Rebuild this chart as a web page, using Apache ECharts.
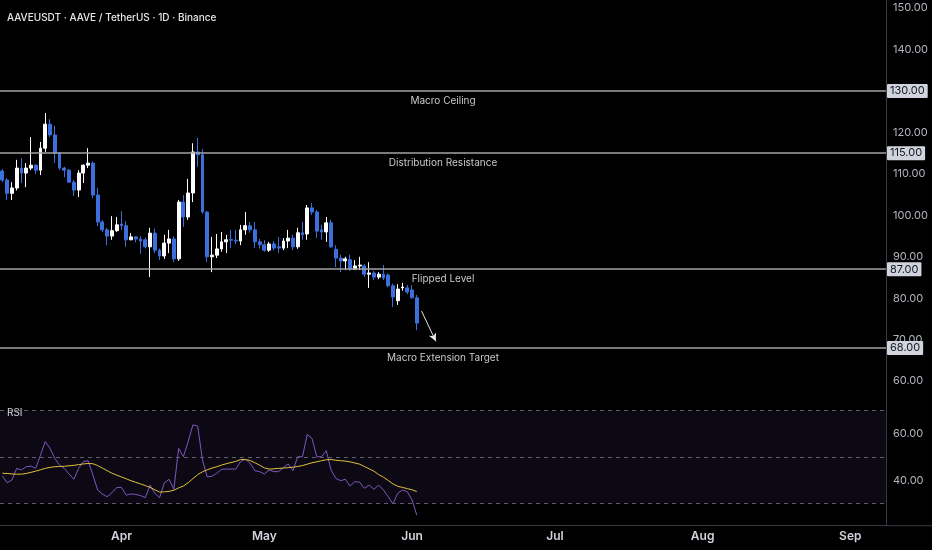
<!DOCTYPE html>
<html>
<head>
<meta charset="utf-8">
<script src="https://cdn.jsdelivr.net/npm/echarts@6/dist/echarts.min.js"></script>
<style>html,body{margin:0;padding:0;background:#000}#c{width:932px;height:550px}</style>
</head>
<body>
<div id="c"></div>
<script>
// ---- data ----
const startDate = '2024-03-07';
const dayCount = 186; // axis runs to early September
const monthNames = ['Jan','Feb','Mar','Apr','May','Jun','Jul','Aug','Sep','Oct','Nov','Dec'];

const opens  = [110.7,108.5,105.3,106.6,111.4,110.2,111.4,112.1,110.9,116.2,122.0,119.4,115.0,111.4,110.9,108.0,106.1,110.2,112.1,112.6,104.9,98.4,96.5,95.0,96.3,
                97.9,97.5,94.1,94.8,94.3,94.1,92.4,95.7,91.6,90.2,93.3,94.3,89.5,103.2,99.6,105.4,115.3,114.6,100.8,90.0,90.4,91.9,93.6,94.2,94.0,93.8,96.5,97.5,96.5,93.6,
                92.9,91.6,93.1,92.4,92.1,93.8,94.5,92.4,95.8,95.5,101.8,100.8,96.5,96.0,98.2,91.8,89.7,89.0,89.3,87.0,87.8,87.8,85.8,86.1,85.1,85.8,85.6,83.0,79.4,82.5,82.5,82.0,80.1];
const closes = [108.5,105.3,106.6,111.4,110.2,111.4,112.1,110.9,116.2,122.0,119.4,115.0,111.4,110.9,108.0,106.1,110.2,112.1,112.6,104.9,98.4,96.5,95.0,96.3,97.7,
                97.5,94.1,94.8,94.3,93.8,92.4,95.7,91.6,90.2,93.3,94.3,89.5,103.2,99.6,105.4,115.3,114.6,100.8,90.0,90.4,91.9,93.6,94.1,94.0,93.8,96.5,97.5,96.5,93.6,92.9,
                91.6,93.1,92.1,92.1,93.8,94.5,92.4,95.8,95.3,101.8,100.8,96.2,96.0,98.2,92.4,89.7,89.0,89.5,87.0,87.8,88.0,85.8,86.1,85.1,85.8,84.9,83.0,80.3,82.2,82.7,81.5,80.1,74.0];
const lows   = [108.0,103.7,103.7,106.0,107.8,106.8,110.9,110.0,109.7,115.3,118.9,112.6,110.9,109.2,107.8,104.7,104.4,107.8,111.4,104.2,97.4,96.0,92.8,94.1,96.0,
                96.5,92.4,94.0,93.5,90.7,92.0,85.1,90.9,89.2,89.5,90.9,88.7,89.0,97.2,98.9,103.2,111.7,100.4,88.7,86.3,89.7,91.2,90.9,92.1,93.0,92.8,95.3,95.8,92.1,92.0,
                91.2,91.2,91.5,90.9,91.6,92.1,91.6,91.9,94.1,94.1,100.1,94.5,94.1,93.6,92.1,87.5,86.3,86.8,86.6,86.8,86.8,85.1,82.5,84.4,84.6,84.4,82.7,77.9,78.4,81.8,81.0,80.0,72.3];
const highs  = [111.2,109.0,108.0,113.4,113.8,112.6,118.9,112.3,117.7,124.7,123.2,121.6,115.3,111.7,111.2,108.5,110.9,112.3,116.2,113.0,106.6,98.9,97.0,99.8,99.6,
                101.0,98.6,95.7,95.0,95.0,94.6,97.0,96.8,92.0,95.3,96.5,95.0,103.7,104.9,108.8,117.4,118.7,116.0,101.0,94.8,95.5,96.0,95.3,96.5,96.5,97.7,100.8,98.4,98.4,94.3,
                94.0,93.6,93.8,94.8,94.5,96.5,95.3,97.0,98.4,102.5,103.0,101.3,97.7,99.6,98.9,92.8,90.5,90.0,90.5,89.2,90.0,88.3,88.7,86.6,86.3,88.0,86.0,83.5,83.4,83.7,83.2,83.2,80.8];

const rsi   = [41.9,39.0,40.2,45.2,44.5,45.9,46.2,45.2,50.9,56.7,53.8,49.5,46.6,45.2,42.8,40.5,45.2,48.1,48.5,42.3,35.9,34.2,33.0,34.7,37.0,
               37.0,33.7,34.2,34.0,33.5,32.6,38.0,34.5,32.6,39.0,40.5,36.2,53.8,50.2,56.7,63.9,63.4,48.8,41.5,41.8,43.1,44.8,44.9,44.9,44.9,48.1,49.1,47.4,44.2,43.8,
               42.8,44.5,43.8,43.8,45.6,47.1,44.2,50.2,50.2,59.8,58.1,50.2,50.2,52.8,44.5,40.9,39.9,40.5,37.6,39.5,39.2,36.6,38.0,36.2,38.0,35.9,33.0,29.9,34.5,35.9,35.2,31.6,25.1];
const rsiMa = [43.1,43.0,42.8,42.7,42.7,43.0,43.5,44.0,44.6,45.2,45.6,45.9,46.0,46.1,46.3,46.5,46.8,47.1,47.3,47.2,46.4,45.3,44.2,43.1,42.3,
               41.5,40.7,39.9,39.2,38.5,37.8,37.0,36.0,35.0,35.1,35.3,35.8,36.8,37.6,39.0,40.8,42.5,43.7,44.6,45.3,45.9,46.6,47.2,47.7,48.2,49.0,49.0,48.6,47.6,46.6,
               45.4,44.9,45.0,45.2,45.3,45.5,45.7,46.0,46.4,47.0,47.6,48.0,48.5,48.9,49.0,48.7,48.5,48.3,48.0,47.5,47.0,46.0,45.0,44.0,42.5,41.4,40.0,38.5,37.5,37.0,36.5,36.0,35.2];

const levels     = [130, 115, 87, 68];
const levelNames = ['Macro Ceiling', 'Distribution Resistance', 'Flipped Level', 'Macro Extension Target'];
const priceTicks = [60, 70, 80, 90, 100, 110, 120, 130, 140, 150];
const rsiTicks   = [40, 60];
const rsiBands   = [70, 50, 30];
const arrowFrom  = ['2024-06-03', 76.9];
const arrowTo    = ['2024-06-06', 69.6];

// ---- build ----
const categories = [];
{
  const d0 = new Date(startDate + 'T00:00:00Z');
  for (let i = 0; i < dayCount; i++) {
    const d = new Date(d0.getTime() + i * 86400000);
    categories.push(d.toISOString().slice(0, 10));
  }
}
const candles = opens.map((o, i) => [o, closes[i], lows[i], highs[i]]);

const upColor = '#ffffff', downColor = '#3b6fdc';
const axisColor = '#363a45';

const levelMarks = [];
levels.forEach((v, i) => {
  levelMarks.push({
    yAxis: v,
    lineStyle: { color: '#a3a3a3', width: 1.5, type: 'solid' },
    label: { show: true, position: 'insideMiddleBottom', formatter: levelNames[i],
             color: '#c9c9c9', fontSize: 10, distance: 5 }
  });
});
levelMarks.push([
  { coord: arrowFrom, symbol: 'none' },
  { coord: arrowTo, symbol: 'arrow', symbolSize: [6, 8],
    lineStyle: { color: '#e6e6e6', width: 1, type: 'solid' }, label: { show: false } }
]);
const tagMarks = levels.map(v => ({
  yAxis: v,
  label: { show: true, position: 'end', formatter: v.toFixed(2), distance: 1,
           backgroundColor: '#d1d4dc', color: '#131722', fontSize: 11,
           padding: [2, 3, 1, 3], borderRadius: 1 }
}));

const chart = echarts.init(document.getElementById('c'));
chart.setOption({
  backgroundColor: '#000000',
  animation: false,
  textStyle: { fontFamily: 'Inter, "Noto Sans", sans-serif' },
  title: [
    { text: 'AAVEUSDT · AAVE / TetherUS · 1D · Binance', left: 2, top: 8,
      textStyle: { color: '#e6e6e6', fontSize: 10, fontWeight: 500 } },
    { text: 'RSI', left: 2, top: 403,
      textStyle: { color: '#d1d4dc', fontSize: 10, fontWeight: 400 } }
  ],
  grid: [
    { left: 0, top: 0, width: 886, height: 393 },
    { left: 0, top: 393, width: 886, height: 132.7 }
  ],
  xAxis: [
    { type: 'category', gridIndex: 0, data: categories, boundaryGap: true,
      axisLine: { show: false }, axisTick: { show: false }, axisLabel: { show: false }, splitLine: { show: false } },
    { type: 'category', gridIndex: 1, data: categories, boundaryGap: true,
      axisLine: { show: true, lineStyle: { color: axisColor } }, axisTick: { show: false },
      splitLine: { show: false },
      axisLabel: { interval: (i, v) => v.endsWith('-01'),
                   formatter: v => monthNames[+v.slice(5, 7) - 1],
                   color: '#d1d4dc', fontSize: 12, fontWeight: 600, margin: 5 } }
  ],
  yAxis: [
    { type: 'value', gridIndex: 0, position: 'right', min: 57.14, max: 151.95,
      axisLine: { show: true, lineStyle: { color: axisColor } }, axisTick: { show: false },
      splitLine: { show: false },
      axisLabel: { customValues: priceTicks, formatter: v => v.toFixed(2), color: '#b2b5be', fontSize: 11, margin: 7 } },
    { type: 'value', gridIndex: 1, position: 'right', min: 20.54, max: 77.61,
      axisLine: { show: true, lineStyle: { color: axisColor } }, axisTick: { show: false },
      splitLine: { show: false },
      axisLabel: { customValues: rsiTicks, formatter: v => v.toFixed(2), color: '#b2b5be', fontSize: 11, margin: 7 } }
  ],
  graphic: [
    { type: 'line', shape: { x1: 886, y1: 525.7, x2: 932, y2: 525.7 }, style: { stroke: axisColor, lineWidth: 1 }, silent: true }
  ],
  series: [
    { type: 'candlestick', xAxisIndex: 0, yAxisIndex: 0, data: candles, barWidth: '70%',
      itemStyle: { color: upColor, color0: downColor, borderColor: upColor, borderColor0: downColor, borderWidth: 1 },
      markLine: { silent: true, symbol: 'none', animation: false, data: levelMarks } },
    { type: 'line', name: 'levelTags', xAxisIndex: 0, yAxisIndex: 0, data: [], z: 10,
      markLine: { silent: true, symbol: 'none', animation: false,
                  lineStyle: { color: 'rgba(0,0,0,0)', width: 0 }, data: tagMarks } },
    { type: 'line', name: 'RSI', xAxisIndex: 1, yAxisIndex: 1, data: rsi, showSymbol: false,
      lineStyle: { color: '#7e57c2', width: 1 }, itemStyle: { color: '#7e57c2' }, z: 3,
      markArea: { silent: true, itemStyle: { color: 'rgba(126,87,194,0.10)' },
                  data: [[{ yAxis: rsiBands[2] }, { yAxis: rsiBands[0] }]] },
      markLine: { silent: true, symbol: 'none', label: { show: false },
                  lineStyle: { color: '#5d606b', type: [4, 4], width: 1 },
                  data: rsiBands.map(v => ({ yAxis: v })) } },
    { type: 'line', name: 'RSI MA', xAxisIndex: 1, yAxisIndex: 1, data: rsiMa, showSymbol: false, smooth: false,
      lineStyle: { color: '#e2c13c', width: 1 }, itemStyle: { color: '#e2c13c' }, z: 4 }
  ]
});
</script>
</body>
</html>
